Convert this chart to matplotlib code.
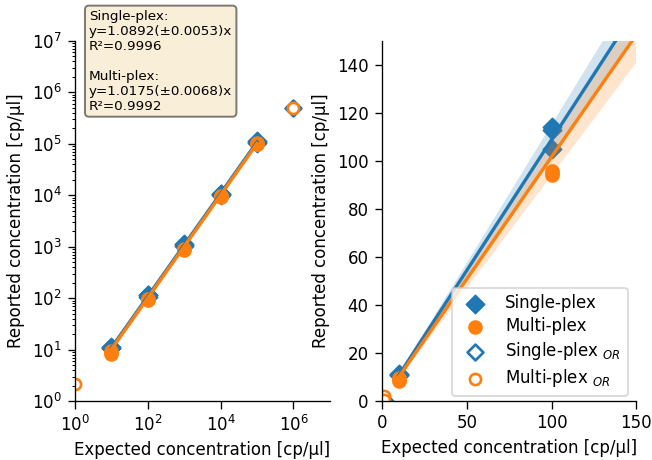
import numpy as np
import matplotlib
matplotlib.use('Agg')
import matplotlib.pyplot as plt
from matplotlib.ticker import LogLocator, FixedLocator, NullFormatter

# measured concentrations (3 replicates per level)
expected = [10, 100, 1000, 1e4, 1e5]
single_rep = [[11.5, 11.0, 10.8],
              [114, 113, 105],
              [1120, 1080, 1050],
              [1.08e4, 1.05e4, 1.02e4],
              [1.12e5, 1.08e5, 1.05e5]]
multi_rep = [[9.5, 8.2, 8.8],
             [96, 94, 95],
             [920, 880, 900],
             [9800, 9300, 9500],
             [1.02e5, 9.8e4, 1.0e5]]

# out of range points
single_or_x = [2, 1e6]
single_or_y = [0, 5e5]
multi_or_x = [1, 1, 1e6]
multi_or_y = [2.2, 0.4, 5e5]

# fits
slope_s, err_s, r2_s = 1.0892, 0.0053, 0.9996
slope_m, err_m, r2_m = 1.0175, 0.0068, 0.9992
band_s = [1.025, 1.152]
band_m = [0.940, 1.090]

log_xticks = [1, 1e2, 1e4, 1e6]
log_yticks = [1, 1e1, 1e2, 1e3, 1e4, 1e5, 1e6, 1e7]

xs = np.repeat(expected, 3)
ys_s = np.ravel(single_rep)
ys_m = np.ravel(multi_rep)
xfit = np.array([10, 1e5])

plt.rcParams['xtick.major.size'] = 4.5
plt.rcParams['ytick.major.size'] = 4.5

fig = plt.figure(figsize=(652/120, 460/120), dpi=120)
ax1 = fig.add_axes([0.115, 0.128, 0.391, 0.783])
ax2 = fig.add_axes([0.586, 0.128, 0.390, 0.783])

for ax in (ax1, ax2):
    ax.scatter(xs, ys_s, marker='D', s=60, color='C0', label='Single-plex', zorder=2)
    ax.scatter(xs, ys_m, marker='o', s=60, color='C1', label='Multi-plex', zorder=2)
    ax.scatter(single_or_x, single_or_y, marker='D', s=45, facecolor='white',
               edgecolor='C0', linewidth=1.6, label='Single-plex $_{OR}$', zorder=2)
    ax.scatter(multi_or_x, multi_or_y, marker='o', s=45, facecolor='white',
               edgecolor='C1', linewidth=1.6, label='Multi-plex $_{OR}$', zorder=2)
    ax.fill_between(xfit, band_s[0]*xfit, band_s[1]*xfit, color='C0', alpha=0.2, lw=0, zorder=3)
    ax.fill_between(xfit, band_m[0]*xfit, band_m[1]*xfit, color='C1', alpha=0.2, lw=0, zorder=3)
    ax.plot(xfit, slope_s*xfit, color='C0', lw=2, zorder=4)
    ax.plot(xfit, slope_m*xfit, color='C1', lw=2, zorder=4)
    ax.spines['top'].set_visible(False)
    ax.spines['right'].set_visible(False)
    ax.set_xlabel('Expected concentration [cp/µl]')
    ax.set_ylabel('Reported concentration [cp/µl]')

ax1.set_xscale('log')
ax1.set_yscale('log')
ax1.set_xlim(1, 1e7)
ax1.set_ylim(1, 1e7)
ax1.xaxis.set_major_locator(FixedLocator(log_xticks))
ax1.yaxis.set_major_locator(FixedLocator(log_yticks))
ax1.yaxis.set_minor_locator(LogLocator(base=10, subs=np.arange(2, 10), numticks=10))
ax1.xaxis.set_minor_formatter(NullFormatter())
ax1.yaxis.set_minor_formatter(NullFormatter())
ax1.tick_params(which='minor', labelbottom=False, labelleft=False)

ax2.set_xlim(0, 150)
ax2.set_ylim(0, 150)
ax2.set_xticks([0, 50, 100, 150])
ax2.set_yticks([0, 20, 40, 60, 80, 100, 120, 140])
ax2.legend(loc='lower right', labelspacing=0.3, borderaxespad=0.3,
           bbox_to_anchor=(0.985, 0.0))

txt = ('Single-plex:\ny=%.4f(±%.4f)x\nR²=%.4f\n\nMulti-plex:\ny=%.4f(±%.4f)x\nR²=%.4f'
       % (slope_s, err_s, r2_s, slope_m, err_m, r2_m))
fig.text(0.1365, 0.979, txt, fontsize=8.1, va='top', ha='left',
         bbox=dict(boxstyle='round', facecolor='wheat', alpha=0.5, lw=1.2))

plt.savefig('out.png')
